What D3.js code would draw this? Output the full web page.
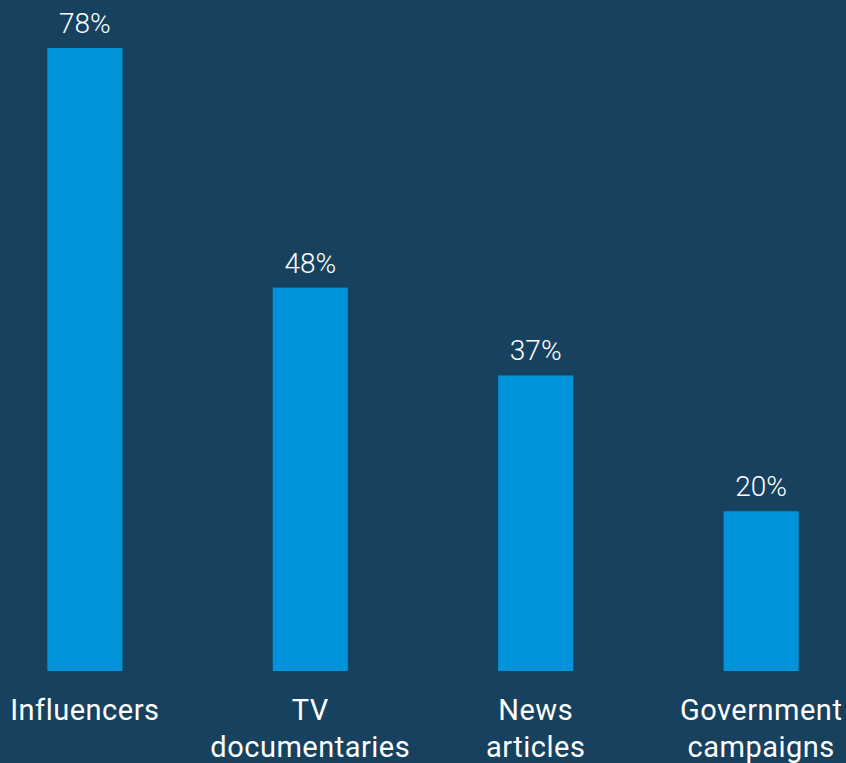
<!DOCTYPE html>
<html>
<head>
<meta charset="utf-8">
<script src="https://cdn.jsdelivr.net/npm/d3@7"></script>
<style>
  html, body { margin: 0; padding: 0; background: #17425f; }
  svg { display: block; }
  text { font-family: Roboto, "Noto Sans", sans-serif; fill: #ffffff; }
</style>
</head>
<body>
<div id="chart"></div>
<script>
const categories = ['Influencers', 'TV documentaries', 'News articles', 'Government campaigns'];
const labelLines = [['Influencers'], ['TV', 'documentaries'], ['News', 'articles'], ['Government', 'campaigns']];
const values = [78, 48, 37, 20];

const width = 846;
const height = 763;

const svg = d3.select('#chart')
  .append('svg')
  .attr('width', width)
  .attr('height', height);

svg.append('rect')
  .attr('width', width)
  .attr('height', height)
  .attr('fill', '#17425f');

// band scale: bar centers at about 84.5, 310.5, 535.5, 760.5
const xScale = d3.scaleBand()
  .domain(categories)
  .range([-27.75, 873.75])
  .paddingInner(0.667)
  .paddingOuter(0.333);

const yScale = d3.scaleLinear()
  .domain([0, 78])
  .range([671, 48]);

const bars = svg.append('g').attr('class', 'bars');

bars.selectAll('rect')
  .data(values)
  .join('rect')
  .attr('x', (d, i) => xScale(categories[i]))
  .attr('y', (d) => yScale(d))
  .attr('width', xScale.bandwidth())
  .attr('height', (d) => yScale(0) - yScale(d))
  .attr('fill', '#0095da');

svg.append('g')
  .selectAll('text')
  .data(values)
  .join('text')
  .attr('x', (d, i) => xScale(categories[i]) + xScale.bandwidth() / 2)
  .attr('y', (d) => yScale(d) - 15)
  .attr('text-anchor', 'middle')
  .style('font-size', '28px')
  .style('font-weight', 300)
  .text((d) => d + '%');

const catLabels = svg.append('g')
  .selectAll('text')
  .data(categories)
  .join('text')
  .attr('x', (d) => xScale(d) + xScale.bandwidth() / 2)
  .attr('y', 720)
  .attr('text-anchor', 'middle')
  .style('font-size', '29px')
  .style('letter-spacing', '0.5px');

catLabels.selectAll('tspan')
  .data((d, i) => labelLines[i])
  .join('tspan')
  .attr('x', function () { return this.parentNode.getAttribute('x'); })
  .attr('dy', (d, i) => i === 0 ? 0 : 37)
  .text((d) => d);
</script>
</body>
</html>
